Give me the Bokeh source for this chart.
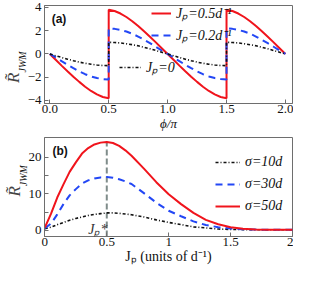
from bokeh.plotting import figure
from bokeh.layouts import column
from bokeh.models import Range1d, FixedTicker, Label, Legend, LegendItem, LinearAxis
from bokeh.embed import file_html
from bokeh.resources import INLINE

# ---------------- data, panel (a) ----------------
phi = [0.0, 0.05, 0.1, 0.15, 0.2, 0.25, 0.3, 0.35, 0.4, 0.45, 0.5,
       0.5, 0.55, 0.6, 0.65, 0.7, 0.75, 0.8, 0.85, 0.9, 0.95, 1.0,
       1.05, 1.1, 1.15, 1.2, 1.25, 1.3, 1.35, 1.4, 1.45, 1.5,
       1.5, 1.55, 1.6, 1.65, 1.7, 1.75, 1.8, 1.85, 1.9, 1.95, 2.0]
r_jp05 = [0, -0.5, -1.0, -1.48, -1.95, -2.4, -2.82, -3.18, -3.48, -3.7, -3.8,
          3.8, 3.7, 3.48, 3.18, 2.82, 2.4, 1.95, 1.48, 1.0, 0.5, 0,
          -0.5, -1.0, -1.48, -1.95, -2.4, -2.82, -3.18, -3.48, -3.7, -3.8,
          3.8, 3.7, 3.48, 3.18, 2.82, 2.4, 1.95, 1.48, 1.0, 0.5, 0]
r_jp02 = [0, -0.3, -0.62, -0.93, -1.22, -1.5, -1.74, -1.93, -2.07, -2.16, -2.2,
          2.2, 2.16, 2.07, 1.93, 1.74, 1.5, 1.22, 0.93, 0.62, 0.3, 0,
          -0.3, -0.62, -0.93, -1.22, -1.5, -1.74, -1.93, -2.07, -2.16, -2.2,
          2.2, 2.16, 2.07, 1.93, 1.74, 1.5, 1.22, 0.93, 0.62, 0.3, 0]
r_jp0 = [0, -0.15, -0.3, -0.45, -0.58, -0.7, -0.8, -0.88, -0.95, -0.99, -1.0,
         1.0, 0.99, 0.95, 0.88, 0.8, 0.7, 0.58, 0.45, 0.3, 0.15, 0,
         -0.15, -0.3, -0.45, -0.58, -0.7, -0.8, -0.88, -0.95, -0.99, -1.0,
         1.0, 0.99, 0.95, 0.88, 0.8, 0.7, 0.58, 0.45, 0.3, 0.15, 0]
a_names = ["J\u209a=0.5d\u207b\u00b9", "J\u209a=0.2d\u207b\u00b9", "J\u209a=0"]
a_xticks = [0, 0.5, 1.0, 1.5, 2.0]
a_xlabels = {0: "0.0", 0.5: "0.5", 1: "1.0", 1.5: "1.5", 2: "2.0"}
a_yticks = [-4, -2, 0, 2, 4]
a_ylabels = {-4: "\u22124", -2: "\u22122", 0: "0", 2: "2", 4: "4"}

# ---------------- data, panel (b) ----------------
jp = [0, 0.05, 0.1, 0.15, 0.2, 0.25, 0.3, 0.35, 0.4, 0.45, 0.5, 0.55, 0.6,
      0.65, 0.7, 0.8, 0.9, 1.0, 1.1, 1.2, 1.3, 1.4, 1.5, 1.6, 1.7, 1.8, 1.9, 2.0]
r_s10 = [0.5, 0.9, 1.6, 2.2, 2.8, 3.3, 3.7, 4.1, 4.4, 4.6, 4.8, 4.8, 4.7,
         4.5, 4.3, 3.7, 2.9, 2.2, 1.6, 1.0, 0.7, 0.4, 0.3, 0.25, 0.2, 0.2, 0.2, 0.2]
r_s30 = [0.6, 1.9, 4.4, 7.2, 9.6, 11.3, 12.8, 13.7, 14.2, 14.5, 14.6, 14.4, 14.0,
         13.4, 12.7, 10.2, 7.6, 5.4, 3.9, 2.5, 1.5, 0.9, 0.55, 0.35, 0.25, 0.2, 0.2, 0.2]
r_s50 = [0.8, 4.6, 9.0, 12.6, 16.0, 18.6, 21.0, 22.5, 23.5, 24.0, 24.2, 23.9, 23.1,
         21.9, 20.4, 16.9, 13.2, 9.9, 7.2, 4.8, 2.9, 1.7, 0.9, 0.5, 0.3, 0.2, 0.2, 0.2]
b_names = ["\u03c3=10d", "\u03c3=30d", "\u03c3=50d"]
jp_star = 0.5
b_xticks = [0, 0.5, 1, 1.5, 2]
b_xlabels = {0: "0", 0.5: "0.5", 1: "1", 1.5: "1.5", 2: "2"}
b_yticks = [0, 10, 20]
b_yminor = [5, 15]

RED = "#f0141c"
BLUE = "#2347f5"
BLACK = "#111111"
FRAME = "#6e6e6e"
SERIF = "Liberation Serif"
NB = "\u00a0"


def lab(p, x, y, text, size, style="normal", font=SERIF, baseline="alphabetic",
        color="#111111"):
    p.add_layout(Label(x=x, y=y, text=text, text_font=font,
                       text_font_size=f"{size}px", text_font_style=style,
                       text_align="left", text_baseline=baseline, text_color=color))


def style_axes(p):
    for ax in (p.xaxis[0], p.yaxis[0]):
        ax.axis_line_color = FRAME
        ax.major_tick_line_color = FRAME
        ax.minor_tick_line_color = FRAME
        ax.major_tick_in = 4
        ax.major_tick_out = 0
        ax.minor_tick_in = 2
        ax.minor_tick_out = 0
        ax.major_label_text_font = SERIF
        ax.major_label_text_font_size = "13px"
        ax.major_label_text_color = "#111111"
        ax.axis_label_text_font = SERIF
        ax.axis_label_text_color = "#111111"
    p.xaxis[0].major_label_standoff = 1
    p.yaxis[0].major_label_standoff = 3
    p.xaxis[0].axis_label_standoff = 0
    p.xgrid.visible = False
    p.ygrid.visible = False
    p.outline_line_color = FRAME
    p.outline_line_width = 1


def y_label(p, lead_sub, trail_sub, trail_r):
    """Y label R~_JWM: subscript as the axis label, R~ on an outer bare axis."""
    ax = p.yaxis[0]
    ax.axis_label = NB * lead_sub + "JWM" + NB * trail_sub
    ax.axis_label_text_font_style = "italic"
    ax.axis_label_text_font_size = "10px"
    ax.axis_label_standoff = -3
    outer = LinearAxis(ticker=FixedTicker(ticks=[]), axis_line_color=None,
                       major_tick_line_color=None, minor_tick_line_color=None,
                       major_label_text_font_size="0px",
                       axis_label="R\u0303" + NB * trail_r,
                       axis_label_text_font=SERIF, axis_label_text_font_style="italic",
                       axis_label_text_font_size="17px", axis_label_standoff=-9)
    p.add_layout(outer, "left")


def make_legend(rends, names, loc, gw, spacing):
    return Legend(items=[LegendItem(label=n, renderers=[r]) for r, n in zip(rends, names)],
                  location=loc, glyph_width=gw, glyph_height=16, label_height=16,
                  label_standoff=5, label_text_font=SERIF, label_text_font_style="italic",
                  label_text_font_size="14px", label_text_color="#111111",
                  spacing=spacing, padding=0, margin=0, border_line_alpha=0,
                  background_fill_alpha=0)


# ---------------- panel (a) ----------------
p1 = figure(width=293, height=133, output_backend="svg", toolbar_location=None,
            x_range=Range1d(-0.045, 2.06), y_range=Range1d(-4.26, 4.17),
            min_border_left=0, min_border_right=1, min_border_top=5, min_border_bottom=0)
p1.xaxis[0].ticker = FixedTicker(ticks=a_xticks, minor_ticks=[])
p1.xaxis[0].major_label_overrides = a_xlabels
p1.yaxis[0].ticker = FixedTicker(ticks=a_yticks, minor_ticks=[])
p1.yaxis[0].major_label_overrides = a_ylabels
style_axes(p1)
p1.xaxis[0].axis_label = "\u03d5/\u03c0"
p1.xaxis[0].axis_label_text_font_style = "italic"
p1.xaxis[0].axis_label_text_font_size = "13px"
y_label(p1, 0, 6, 11)

ra = p1.line(phi, r_jp05, line_color=RED, line_width=2)
rb = p1.line(phi, r_jp02, line_color=BLUE, line_width=2, line_dash="7 5")
rc = p1.line(phi, r_jp0, line_color=BLACK, line_width=1.6, line_dash="3 2 1 2")

p1.add_layout(make_legend([ra, rb], a_names[:2], (107, 59), 20, 3))
p1.add_layout(make_legend([rc], a_names[2:], (75, 27), 22, 0))
lab(p1, 0.016, 3.0, "(a)", 12, "bold", font="Liberation Sans", baseline="middle")

# ---------------- panel (b) ----------------
p2 = figure(width=293, height=133, output_backend="svg", toolbar_location=None,
            x_range=Range1d(-0.003, 2.0), y_range=Range1d(-1.64, 25.4),
            min_border_left=0, min_border_right=1, min_border_top=4, min_border_bottom=0)
p2.xaxis[0].ticker = FixedTicker(ticks=b_xticks, minor_ticks=[])
p2.xaxis[0].major_label_overrides = b_xlabels
p2.yaxis[0].ticker = FixedTicker(ticks=b_yticks, minor_ticks=b_yminor)
style_axes(p2)
p2.yaxis[0].minor_tick_in = 4
p2.xaxis[0].axis_label = "J\u209a (units of d\u207b\u00b9)"
p2.xaxis[0].axis_label_text_font_style = "normal"
p2.xaxis[0].axis_label_text_font_size = "14px"
y_label(p2, 9, 0, 2)

p2.segment(x0=[jp_star], y0=[-1.64], x1=[jp_star], y1=[max(r_s50)],
           line_color="#7f8c8a", line_width=2, line_dash="6 3")
r10 = p2.line(jp, r_s10, line_color=BLACK, line_width=1.6, line_dash="3 2 1 2")
r30 = p2.line(jp, r_s30, line_color=BLUE, line_width=2, line_dash="7 5")
r50 = p2.line(jp, r_s50, line_color=RED, line_width=2)

p2.add_layout(make_legend([r10, r30, r50], b_names, (171, 22), 25, 6))
lab(p2, 0.062, 21.8, "(b)", 12, "bold", font="Liberation Sans", baseline="middle")
lab(p2, 0.35, 0.3, "J\u209a*", 14, "italic", color="#333333")

layout = column(p1, p2)
open("out.html", "w").write(file_html(layout, INLINE))
